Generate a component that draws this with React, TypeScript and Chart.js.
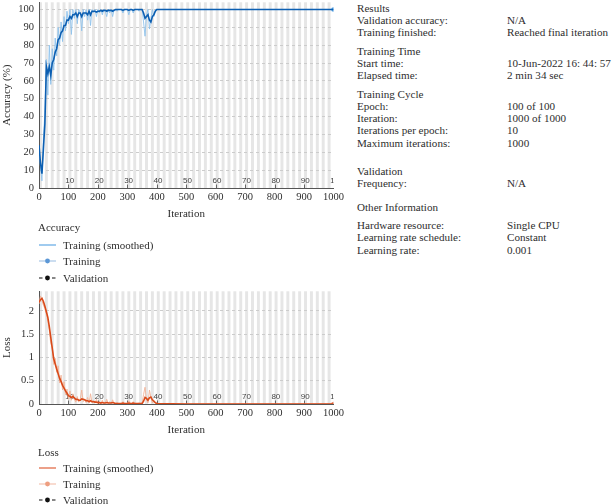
import React, { useEffect, useRef } from "react";
import { Chart, registerables } from "chart.js";

Chart.register(...registerables);

// ---------- data ----------
const ITERATIONS = [
  0, 5, 10, 15, 20, 25, 30, 35, 40, 45, 50, 55, 60, 65, 70, 75, 80, 85, 90, 95,
  100, 105, 110, 115, 120, 125, 130, 135, 140, 145, 150, 155, 160, 165, 170, 175, 180, 185, 190, 195,
  200, 205, 210, 215, 220, 225, 230, 235, 240, 245, 250, 255, 260, 265, 270, 275, 280, 285, 290, 295,
  300, 305, 310, 315, 320, 325, 330, 335, 340, 345, 350, 355, 360, 365, 370, 375, 380, 385, 390, 395,
  400, 500, 600, 700, 800, 900, 1000,
];

const ACC_TRAIN = [
  22, 12, 4, 28, 42, 72, 52, 80, 58, 78, 66, 84, 74, 90, 80, 93, 82, 96, 88, 99,
  92, 100, 86, 100, 95, 100, 92, 100, 98, 88, 100, 96, 100, 94, 100, 91, 100, 98, 100, 96,
  100, 98, 100, 97, 100, 99, 96, 100, 98, 100, 96, 100, 100, 99, 100, 100, 100, 98, 100, 100,
  100, 97, 100, 100, 98, 100, 100, 100, 99, 100, 100, 93, 85, 97, 100, 89, 95, 100, 96, 100,
  100, 100, 100, 100, 100, 100, 100,
];

const ACC_SMOOTH = [
  24, 14, 8, 22, 36, 68, 64, 68, 63, 70, 72, 76, 78, 83, 84, 87, 88, 91, 91, 94,
  94, 96, 95, 97, 97, 98, 96, 98, 98, 96, 98, 98, 98, 97, 99, 97, 99, 99, 99, 98.5,
  99, 99, 99.5, 99, 99.5, 99.5, 99, 99.5, 99.5, 99.5, 99, 99.5, 100, 100, 100, 100, 100, 99.5, 100, 100,
  100, 99.5, 100, 100, 99.5, 100, 100, 100, 100, 100, 100, 98, 95, 96, 97, 94, 93, 96, 97, 99,
  100, 100, 100, 100, 100, 100, 100,
];

const LOSS_TRAIN = [
  2.15, 2.32, 2.22, 2.12, 2.05, 1.92, 1.78, 1.58, 1.3, 1.22, 0.85, 0.98, 0.68, 0.82, 0.45, 0.62, 0.3, 0.48, 0.2, 0.32,
  0.1, 0.28, 0.08, 0.22, 0.1, 0.04, 0.16, 0.04, 0.1, 0.3, 0.05, 0.1, 0.03, 0.14, 0.02, 0.22, 0.03, 0.06, 0.02, 0.1,
  0.02, 0.05, 0.01, 0.08, 0.01, 0.03, 0.1, 0.01, 0.05, 0.01, 0.09, 0.01, 0.01, 0.03, 0.01, 0.01, 0.01, 0.05, 0.01, 0.01,
  0.01, 0.07, 0.01, 0.01, 0.05, 0.01, 0.01, 0.01, 0.02, 0.01, 0.01, 0.2, 0.36, 0.08, 0.02, 0.3, 0.14, 0.02, 0.08, 0.01,
  0.0, 0.0, 0.0, 0.0, 0.0, 0.0, 0.0,
];

const LOSS_SMOOTH = [
  2.18, 2.24, 2.27, 2.2, 2.1, 1.98, 1.86, 1.66, 1.43, 1.2, 0.97, 0.86, 0.75, 0.65, 0.55, 0.48, 0.4, 0.34, 0.28, 0.23,
  0.18, 0.16, 0.14, 0.16, 0.13, 0.1, 0.1, 0.08, 0.08, 0.11, 0.1, 0.09, 0.07, 0.07, 0.05, 0.07, 0.05, 0.05, 0.04, 0.04,
  0.03, 0.03, 0.02, 0.03, 0.02, 0.02, 0.03, 0.02, 0.02, 0.02, 0.03, 0.02, 0.01, 0.01, 0.01, 0.01, 0.01, 0.02, 0.01, 0.01,
  0.01, 0.02, 0.01, 0.01, 0.02, 0.01, 0.01, 0.01, 0.01, 0.01, 0.01, 0.06, 0.14, 0.12, 0.08, 0.13, 0.15, 0.09, 0.06, 0.03,
  0.01, 0.0, 0.0, 0.0, 0.0, 0.0, 0.0,
];

const X_TICKS = [0, 100, 200, 300, 400, 500, 600, 700, 800, 900, 1000];
const ACC_Y_TICKS = [0, 10, 20, 30, 40, 50, 60, 70, 80, 90, 100];
const LOSS_Y_TICKS = [0, 0.5, 1, 1.5, 2];
const EPOCHS = 100;
const ITERS_PER_EPOCH = 10;
const EPOCH_MARKS = [10, 20, 30, 40, 50, 60, 70, 80, 90, 100];

const LEGEND_LABELS = ["Training (smoothed)", "Training", "Validation"];

const INFO_SECTIONS: { title: string; rows: [string, string][] }[] = [
  { title: "Results", rows: [["Validation accuracy:", "N/A"], ["Training finished:", "Reached final iteration"]] },
  { title: "Training Time", rows: [["Start time:", "10-Jun-2022 16: 44: 57"], ["Elapsed time:", "2 min 34 sec"]] },
  {
    title: "Training Cycle",
    rows: [
      ["Epoch:", "100 of 100"],
      ["Iteration:", "1000 of 1000"],
      ["Iterations per epoch:", "10"],
      ["Maximum iterations:", "1000"],
    ],
  },
  { title: "Validation", rows: [["Frequency:", "N/A"]] },
  {
    title: "Other Information",
    rows: [
      ["Hardware resource:", "Single CPU"],
      ["Learning rate schedule:", "Constant"],
      ["Learning rate:", "0.001"],
    ],
  },
];

// ---------- styles ----------
const SERIF = '"Liberation Serif", "DejaVu Serif", serif';
const TEXT = "#2e2e2e";
const SECTION_GAP = [0, 6.4, 6.4, 16, 12];
const HEADER_GAP = [0, 0, 0, 0, 6];

const epochPlugin = {
  id: "epochBands",
  beforeDraw(chart: any) {
    const { ctx, chartArea, scales } = chart;
    const x = scales.x;
    ctx.save();
    ctx.fillStyle = "#e6e6e6";
    for (let e = 0; e < EPOCHS; e += 2) {
      const x0 = x.getPixelForValue(e * ITERS_PER_EPOCH);
      const x1 = x.getPixelForValue((e + 1) * ITERS_PER_EPOCH);
      ctx.fillRect(x0, chartArea.top, x1 - x0, chartArea.bottom - chartArea.top);
    }
    ctx.restore();
  },
  beforeDatasetsDraw(chart: any) {
    const { ctx, chartArea, scales } = chart;
    const x = scales.x;
    ctx.save();
    ctx.beginPath();
    ctx.rect(chartArea.left, chartArea.top, chartArea.right - chartArea.left, chartArea.bottom - chartArea.top);
    ctx.clip();
    ctx.font = '8px "Liberation Sans", Arial, sans-serif';
    ctx.fillStyle = "#444";
    ctx.strokeStyle = "#666";
    ctx.lineWidth = 1;
    ctx.textAlign = "left";
    ctx.textBaseline = "middle";
    EPOCH_MARKS.forEach((ep) => {
      const px = x.getPixelForValue(ep * ITERS_PER_EPOCH);
      ctx.fillText(String(ep), px - 3.2, chartArea.bottom - 7.5);
      ctx.beginPath();
      ctx.moveTo(Math.round(px) + 0.5, chartArea.bottom - 3.5);
      ctx.lineTo(Math.round(px) + 0.5, chartArea.bottom);
      ctx.stroke();
    });
    ctx.restore();
  },
};

type ChartProps = {
  smooth: number[];
  raw: number[];
  smoothColor: string;
  rawColor: string;
  dotColor: string;
  yMax: number;
  yTicks: number[];
  yTitle: string;
  width: number;
  height: number;
  top: number;
};

function TrainingChart(p: ChartProps) {
  const ref = useRef<HTMLCanvasElement>(null);
  useEffect(() => {
    const font = { family: SERIF, size: 10.5 };
    const last = ITERATIONS.length - 1;
    const chart = new Chart(ref.current as HTMLCanvasElement, {
      type: "line",
      data: {
        datasets: [
          {
            label: "Training (smoothed)",
            data: ITERATIONS.map((x, i) => ({ x, y: p.smooth[i] })),
            borderColor: p.smoothColor,
            borderWidth: 1.6,
            pointRadius: 0,
            tension: 0,
          },
          {
            label: "Training",
            data: ITERATIONS.map((x, i) => ({ x, y: p.raw[i] })),
            borderColor: p.rawColor,
            borderWidth: 0.9,
            pointRadius: (c: any) => (c.dataIndex === last ? 2.3 : 0),
            pointBackgroundColor: p.dotColor,
            pointBorderWidth: 0,
            tension: 0,
          },
        ],
      },
      options: {
        responsive: false,
        animation: false,
        events: [],
        layout: { padding: { left: 0, right: 12, top: 0, bottom: 0 } },
        plugins: { legend: { display: false }, tooltip: { enabled: false } },
        scales: {
          x: {
            type: "linear",
            min: 0,
            max: 1000,
            afterBuildTicks: (s: any) => {
              s.ticks = X_TICKS.map((v) => ({ value: v }));
            },
            afterFit: (s: any) => {
              s.height = 34;
            },
            ticks: { font, color: TEXT, padding: 3, maxRotation: 0, autoSkip: false, callback: (v: any) => String(v) },
            grid: { display: false, drawTicks: false },
            border: { display: true, color: "#555", width: 1 },
            title: { display: true, text: "Iteration", font: { family: SERIF, size: 11 }, color: TEXT, padding: { top: 0, bottom: 1 } },
          },
          y: {
            type: "linear",
            min: 0,
            max: p.yMax,
            afterBuildTicks: (s: any) => {
              s.ticks = p.yTicks.map((v) => ({ value: v }));
            },
            afterFit: (s: any) => {
              s.width = 39;
            },
            ticks: { font, color: TEXT, padding: 5, callback: (v: any) => String(v) },
            grid: { color: "#cccccc", drawTicks: false, lineWidth: 1 },
            border: { display: true, color: "#555", width: 1, dash: [3, 3] },
            title: { display: true, text: p.yTitle, font: { family: SERIF, size: 11 }, color: TEXT, padding: { top: 1, bottom: 0 } },
          },
        },
      } as any,
      plugins: [epochPlugin],
    });
    return () => chart.destroy();
  }, []);
  return (
    <canvas
      ref={ref}
      width={p.width}
      height={p.height}
      style={{ position: "absolute", left: 0, top: p.top, width: p.width, height: p.height }}
    />
  );
}

type LegendStyle = { line: string; dot?: string; dashed?: boolean };

function LegendBlock({ title, top, rows, styles }: { title: string; top: number; rows: number[]; styles: LegendStyle[] }) {
  return (
    <>
      <div style={{ position: "absolute", left: 38, top: top - 7, lineHeight: "14px", fontSize: 11, color: TEXT }}>{title}</div>
      {LEGEND_LABELS.map((label, i) => {
        const s = styles[i];
        const cy = top + rows[i];
        return (
          <React.Fragment key={label}>
            <svg style={{ position: "absolute", left: 38, top: cy - 5 }} width={19} height={10}>
              <line x1={1} y1={5} x2={18} y2={5} stroke={s.line} strokeWidth={1.2} strokeDasharray={s.dashed ? "3.5,3" : undefined} />
              {s.dot && <circle cx={9.5} cy={5} r={2.4} fill={s.dot} />}
            </svg>
            <div style={{ position: "absolute", left: 63, top: cy - 7, lineHeight: "14px", fontSize: 11, color: TEXT, whiteSpace: "nowrap" }}>
              {label}
            </div>
          </React.Fragment>
        );
      })}
    </>
  );
}

function InfoPanel() {
  const lh = 12.2;
  return (
    <div style={{ position: "absolute", left: 357, top: 1.9, width: 255, fontSize: 11.1, lineHeight: `${lh}px`, color: TEXT }}>
      {INFO_SECTIONS.map((sec, si) => (
        <div key={sec.title} style={{ marginTop: SECTION_GAP[si] }}>
          <div style={{ height: lh + HEADER_GAP[si], whiteSpace: "nowrap" }}>{sec.title}</div>
          {sec.rows.map(([k, v]) => (
            <div key={k} style={{ position: "relative", height: lh, whiteSpace: "nowrap" }}>
              <span>{k}</span>
              <span style={{ position: "absolute", left: 150 }}>{v}</span>
            </div>
          ))}
        </div>
      ))}
    </div>
  );
}

export default function App() {
  return (
    <div
      style={{
        position: "fixed",
        left: 0,
        top: 0,
        width: 612,
        height: 504,
        background: "#fff",
        overflow: "hidden",
        fontFamily: SERIF,
      }}
    >
      <TrainingChart
        smooth={ACC_SMOOTH}
        raw={ACC_TRAIN}
        smoothColor="#0c5fb2"
        rawColor="#90c3ec"
        dotColor="#4f9de0"
        yMax={104}
        yTicks={ACC_Y_TICKS}
        yTitle="Accuracy (%)"
        width={347}
        height={231}
        top={-9}
      />
      <LegendBlock
        title="Accuracy"
        top={227}
        rows={[18, 34, 51]}
        styles={[{ line: "#62a8e4" }, { line: "#a8c6e6", dot: "#5b97d6" }, { line: "#111", dot: "#111", dashed: true }]}
      />
      <TrainingChart
        smooth={LOSS_SMOOTH}
        raw={LOSS_TRAIN}
        smoothColor="#d94a1a"
        rawColor="#f2b49a"
        dotColor="#e8896a"
        yMax={2.42}
        yTicks={LOSS_Y_TICKS}
        yTitle="Loss"
        width={347}
        height={158}
        top={280}
      />
      <LegendBlock
        title="Loss"
        top={452}
        rows={[16, 31.5, 48]}
        styles={[{ line: "#e0603a" }, { line: "#f3c3b0", dot: "#ee9e80" }, { line: "#111", dot: "#111", dashed: true }]}
      />
      <InfoPanel />
    </div>
  );
}
